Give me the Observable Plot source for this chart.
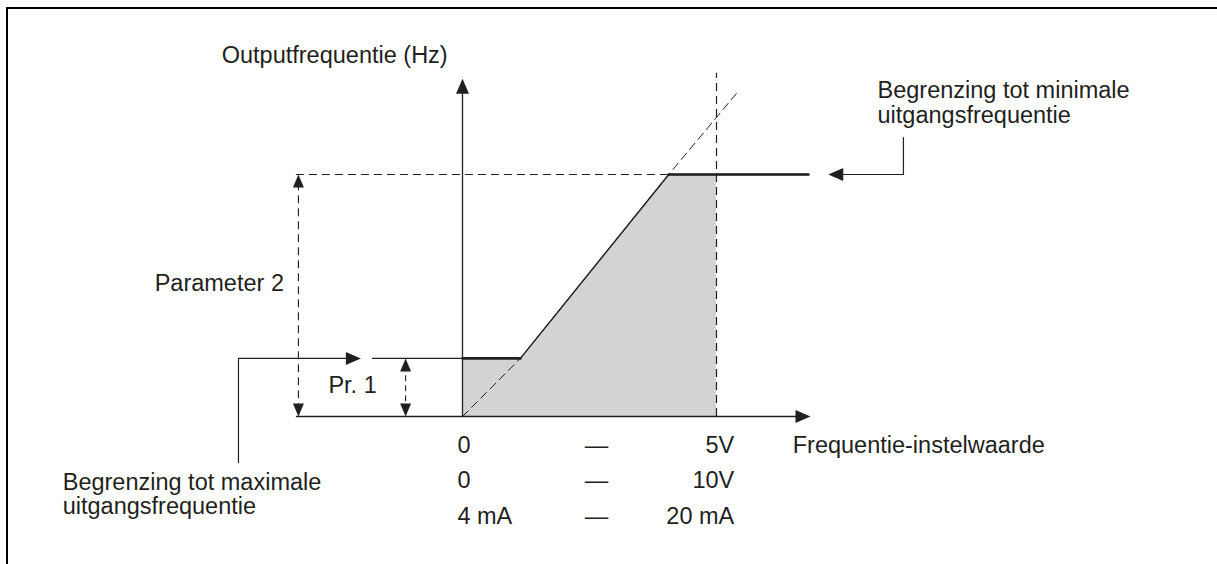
<!DOCTYPE html>
<html><head><meta charset="utf-8">
<script src="https://cdn.jsdelivr.net/npm/d3@7"></script>
<script src="https://cdn.jsdelivr.net/npm/@observablehq/plot@0.6"></script>
<style>
html,body{margin:0;padding:0;background:#fff;}
#wrap{position:relative;width:1217px;height:564px;overflow:hidden;background:#fff;}
#frame{position:absolute;left:6px;top:7px;width:1300px;height:700px;border-top:2px solid #000;border-left:2px solid #000;}
#chart{position:absolute;left:0;top:0;}
</style></head><body>
<div id="wrap"><div id="frame"></div><div id="chart"></div></div>
<script>
// ---- data (setpoint in V on the 0–5V scale, output frequency in Hz) ----
const setpointX = [0, 1.14, 4.06, 5.0, 6.81];      // knee points of the limited curve
const outputHz  = [12, 12, 50, 50, 50];
const uncappedX = [0, 1.14, 4.06, 5.39];            // dashed unlimited characteristic
const uncappedHz = [0, 12, 50, 66.7];
const pr1 = 12;          // Pr. 1 (lower limit)
const param2 = 50;       // Parameter 2 (upper limit)
const setpointMax = 5;   // 5V / 10V / 20 mA
const rowStart = ["0", "0", "4 mA"];
const rowSep   = ["—", "—", "—"];
const rowEnd   = ["5V", "10V", "20 mA"];
const labels = [
  {x: -4.74, y: 74.6, text: "Outputfrequentie (Hz)"},
  {x: 8.17, y: 64.8, text: "Begrenzing tot minimale\nuitgangsfrequentie"},
  {x: -6.06, y: 27.5, text: "Parameter 2"},
  {x: -2.64, y: 6.4, text: "Pr. 1"},
  {x: -7.87, y: -16.0, text: "Begrenzing tot maximale\nuitgangsfrequentie"},
  {x: 6.50, y: -6.0, text: "Frequentie-instelwaarde"}
];

const ink = "#231f20";
const font = "Liberation Sans, Arial, Helvetica, sans-serif";
const fs = 23.5;

const curve = setpointX.map((x, i) => ({x, y: outputHz[i]}));
const shaded = curve.filter(d => d.x <= setpointMax);
const dashedLine = uncappedX.map((x, i) => ({x, y: uncappedHz[i]}));
const flats = [curve.slice(0, 2), curve.slice(2)];

function head(len, hw) {
  return {draw(ctx) { ctx.moveTo(0, 0); ctx.lineTo(hw, len); ctx.lineTo(-hw, len); ctx.closePath(); }};
}
const bigHead = head(15, 6.5);
const smallHead = head(13, 5.5);

const xLeft = -3.27, xTip = 6.85, yTop = 69.8, vTop = 70.9;
const axisHeads = [{x: 0, y: yTop, r: 0}, {x: xTip, y: 0, r: 90}];
const dimHeads = [
  {x: -3.23, y: param2, r: 0}, {x: -3.23, y: 0, r: 180},
  {x: -1.12, y: pr1, r: 0}, {x: -1.12, y: 0, r: 180}
];
const leftLeader = [{x: -4.41, y: -9.5}, {x: -4.41, y: pr1}, {x: -2.3, y: pr1}];
const rightLeader = [{x: 8.68, y: 57.6}, {x: 8.68, y: param2}, {x: 7.5, y: param2}];
const leaderHeads = [{x: -2.0, y: pr1, r: 90}, {x: 7.2, y: param2, r: 270}];

const rows = rowStart.map((s, i) => ({i, s, m: rowSep[i], e: rowEnd[i], y: -6.0 - i * 7.3}));

const dash = "8,5";
const plot = Plot.plot({
  width: 1217, height: 564,
  marginTop: 0, marginRight: 0, marginBottom: 0, marginLeft: 0,
  x: {type: "linear", domain: [0, 5], range: [462, 716], axis: null},
  y: {type: "linear", domain: [0, 50], range: [416, 174], axis: null},
  style: {fontFamily: font, fontSize: fs + "px", background: "transparent", overflow: "visible"},
  marks: [
    Plot.areaY(shaded, {x: "x", y: "y", y1: 0, fill: "#d1d3d4", curve: "linear"}),
    // dashed guides
    Plot.line(dashedLine, {x: "x", y: "y", stroke: ink, strokeWidth: 1, strokeDasharray: dash}),
    Plot.ruleX([setpointMax], {y1: 0, y2: vTop, stroke: ink, strokeWidth: 1.2, strokeDasharray: dash}),
    Plot.ruleY([param2], {x1: xLeft, x2: 4.06, stroke: ink, strokeWidth: 1.1, strokeDasharray: dash}),
    Plot.ruleX([-3.23], {y1: 1, y2: param2 - 1, stroke: ink, strokeWidth: 1.1, strokeDasharray: dash}),
    Plot.ruleX([-1.12], {y1: 1, y2: pr1 - 1, stroke: ink, strokeWidth: 1.1, strokeDasharray: "6,4"}),
    // axes
    Plot.ruleX([0], {y1: 0, y2: yTop - 2, stroke: ink, strokeWidth: 1.3}),
    Plot.ruleY([0], {x1: xLeft, x2: xTip - 0.2, stroke: ink, strokeWidth: 1.3}),
    Plot.ruleY([pr1], {x1: -1.77, x2: 0, stroke: ink, strokeWidth: 1.1}),
    // characteristic
    Plot.line(curve, {x: "x", y: "y", stroke: ink, strokeWidth: 1.4}),
    ...flats.map(f => Plot.line(f, {x: "x", y: "y", stroke: ink, strokeWidth: 2.6})),
    // leaders
    Plot.line(leftLeader, {x: "x", y: "y", stroke: ink, strokeWidth: 1.2}),
    Plot.line(rightLeader, {x: "x", y: "y", stroke: ink, strokeWidth: 1.2}),
    // arrow heads
    Plot.dot(axisHeads, {x: "x", y: "y", rotate: "r", symbol: bigHead, fill: ink, stroke: null, r: 5}),
    Plot.dot(leaderHeads, {x: "x", y: "y", rotate: "r", symbol: bigHead, fill: ink, stroke: null, r: 5}),
    Plot.dot(dimHeads, {x: "x", y: "y", rotate: "r", symbol: smallHead, fill: ink, stroke: null, r: 5}),
    // texts
    Plot.text(labels, {x: "x", y: "y", text: "text", textAnchor: "start", lineAnchor: "middle", lineHeight: 1.05, fill: ink, fontSize: fs}),
    Plot.text(rows, {x: -0.1, y: "y", text: "s", textAnchor: "start", fill: ink, fontSize: fs}),
    Plot.text(rows, {x: 2.64, y: "y", text: "m", textAnchor: "middle", fill: ink, fontSize: fs}),
    Plot.text(rows, {x: 5.35, y: "y", text: "e", textAnchor: "end", fill: ink, fontSize: fs})
  ]
});
document.getElementById("chart").appendChild(plot);
</script>
</body></html>
